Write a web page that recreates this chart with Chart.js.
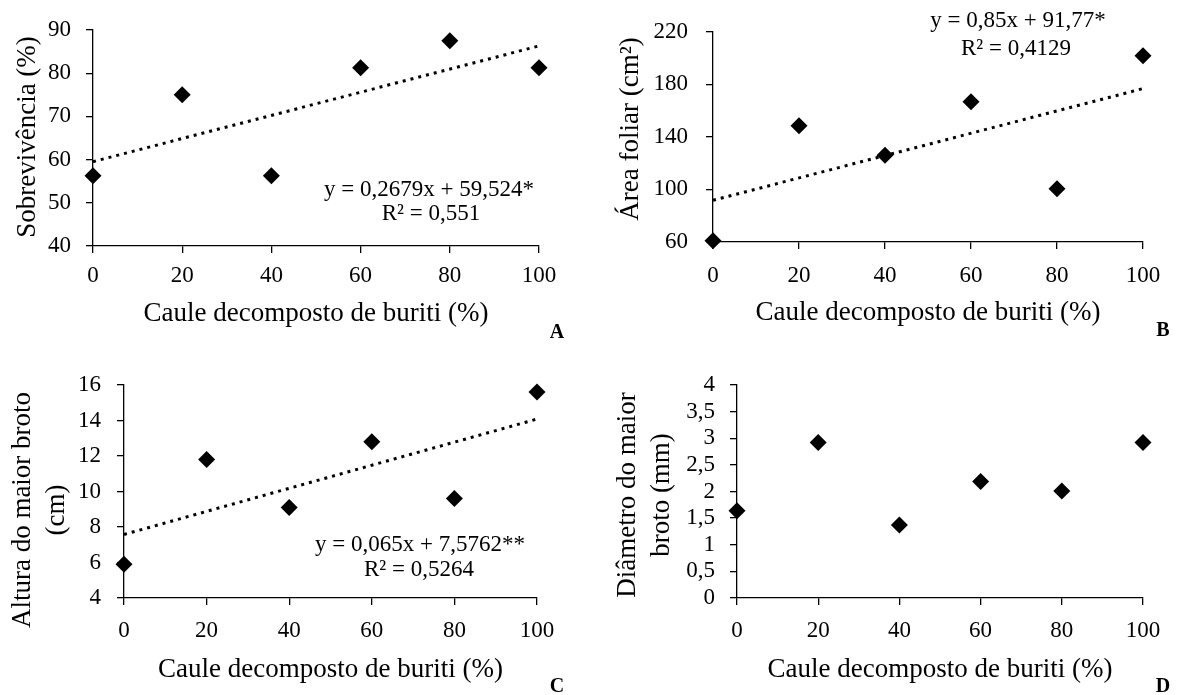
<!DOCTYPE html>
<html>
<head>
<meta charset="utf-8">
<script src="https://cdn.jsdelivr.net/npm/chart.js@4.4.1/dist/chart.umd.min.js"></script>
<style>
html, body { margin: 0; padding: 0; background: #fff; }
body { width: 1179px; height: 695px; position: relative; overflow: hidden; }
canvas { position: absolute; }
</style>
</head>
<body>
<canvas id="chartA"></canvas>
<canvas id="chartB"></canvas>
<canvas id="chartC"></canvas>
<canvas id="chartD"></canvas>
<script>
// doses de caule decomposto de buriti (%)
const doses = [0, 20, 40, 60, 80, 100];

const sobrevivencia = [56.25, 75, 56.25, 81.25, 87.5, 81.25];
const areaFoliar = [61, 148.5, 126, 166.75, 100.5, 201.75];
const alturaBroto = [5.9, 11.8, 9.1, 12.8, 9.6, 15.6];
const diametroBroto = [1.64, 2.92, 1.37, 2.19, 2.01, 2.92];

// linha de tendência: valor em x = 0 e em x = 100
const trendA = [59.52, 86.31];
const trendB = [91.77, 176.77];
const trendC = [7.58, 14.08];

const xTitle = 'Caule decomposto de buriti (%)';

const serif = "'Liberation Serif', 'Times New Roman', serif";
Chart.defaults.font.family = serif;
Chart.defaults.color = '#000';

// textos livres: equações, letras dos painéis e títulos verticais
const notesPlugin = {
  id: 'notes',
  afterDraw(chart, args, opts) {
    const ctx = chart.ctx;
    ctx.save();
    ctx.fillStyle = '#000';
    ctx.textAlign = 'center';
    for (const n of opts.items) {
      ctx.font = n.font;
      ctx.textBaseline = 'alphabetic';
      ctx.fillText(n.text, n.x - opts.ox, n.y - opts.oy);
    }
    const t = opts.yTitle;
    ctx.font = '27px ' + serif;
    ctx.textBaseline = 'middle';
    t.lines.forEach((line, i) => {
      ctx.save();
      ctx.translate(t.x[i] - opts.ox, t.y - opts.oy);
      ctx.rotate(-Math.PI / 2);
      ctx.fillText(line, 0, 0);
      ctx.restore();
    });
    ctx.restore();
  }
};

const eqFont = '23px ' + serif;
const letterFont = 'bold 20px ' + serif;

function makeChart(p) {
  const el = document.getElementById(p.id);
  const b = p.box;
  el.width = b.w;
  el.height = b.h;
  el.style.left = b.x + 'px';
  el.style.top = b.y + 'px';

  const lhX = 27 * 1.2;
  const padL = 4;
  const padB = b.y + b.h - (p.xTitleY + lhX / 2);

  const datasets = [{
    data: doses.map((x, i) => ({ x: x, y: p.values[i] })),
    pointStyle: 'rectRot',
    pointRadius: 8.5,
    pointHoverRadius: 8.5,
    backgroundColor: '#000',
    borderColor: '#000',
    borderWidth: 0,
    clip: false
  }];
  if (p.trend) {
    datasets.push({
      data: [{ x: doses[0], y: p.trend[0] }, { x: doses[doses.length - 1], y: p.trend[1] }],
      showLine: true,
      borderColor: '#000',
      borderWidth: 3,
      borderDash: [3, 5],
      pointRadius: 0,
      pointHoverRadius: 0,
      clip: false
    });
  }

  const axisGrid = { drawOnChartArea: false, drawTicks: true, tickLength: 7, color: '#000', lineWidth: 1.3 };
  const axisBorder = { color: '#000', width: 1.3 };

  new Chart(el, {
    type: 'scatter',
    data: { datasets: datasets },
    options: {
      responsive: false,
      animation: false,
      devicePixelRatio: 1,
      events: [],
      layout: {
        padding: { left: padL, top: p.area.t - b.y, right: b.x + b.w - p.area.r, bottom: padB }
      },
      plugins: {
        legend: { display: false },
        tooltip: { enabled: false },
        notes: { items: p.notes, yTitle: p.yTitle, ox: b.x, oy: b.y }
      },
      scales: {
        x: {
          type: 'linear',
          min: 0,
          max: 100,
          afterFit: s => { s.height = b.y + b.h - padB - p.area.b; },
          ticks: { stepSize: 20, padding: p.xPad, autoSkip: false, maxRotation: 0, font: { size: 23 }, color: '#000' },
          grid: axisGrid,
          border: axisBorder,
          title: { display: true, text: xTitle, font: { size: 27 }, color: '#000', padding: 0 }
        },
        y: {
          min: p.yMin,
          max: p.yMax,
          afterFit: s => { s.width = p.area.l - b.x - padL; },
          ticks: {
            stepSize: p.yStep,
            padding: p.yPad,
            autoSkip: false,
            font: { size: 23 },
            color: '#000',
            callback: v => String(v).replace('.', ',')
          },
          grid: axisGrid,
          border: axisBorder
        }
      }
    },
    plugins: [notesPlugin]
  });
}

makeChart({
  id: 'chartA',
  box: { x: 0, y: 0, w: 590, h: 345 },
  area: { l: 93, r: 539, t: 30, b: 246 },
  xTitleY: 314, xPad: 9, yPad: 15,
  values: sobrevivencia, trend: trendA,
  yMin: 40, yMax: 90, yStep: 10,
  yTitle: { lines: ['Sobrevivência (%)'], x: [28], y: 137 },
  notes: [
    { text: 'y = 0,2679x + 59,524*', x: 429, y: 196, font: eqFont },
    { text: 'R² = 0,551', x: 431, y: 220, font: eqFont },
    { text: 'A', x: 557, y: 338, font: letterFont }
  ]
});

makeChart({
  id: 'chartB',
  box: { x: 590, y: 0, w: 589, h: 345 },
  area: { l: 713, r: 1143, t: 29, b: 242 },
  xTitleY: 313, xPad: 13, yPad: 18,
  values: areaFoliar, trend: trendB,
  yMin: 60, yMax: 220, yStep: 40,
  yTitle: { lines: ['Área foliar (cm²)'], x: [631], y: 129 },
  notes: [
    { text: 'y = 0,85x + 91,77*', x: 1018, y: 27, font: eqFont },
    { text: 'R² = 0,4129', x: 1016, y: 55, font: eqFont },
    { text: 'B', x: 1163, y: 336, font: letterFont }
  ]
});

makeChart({
  id: 'chartC',
  box: { x: 0, y: 345, w: 590, h: 350 },
  area: { l: 124, r: 537, t: 385, b: 598 },
  xTitleY: 670, xPad: 12, yPad: 16,
  values: alturaBroto, trend: trendC,
  yMin: 4, yMax: 16, yStep: 2,
  yTitle: { lines: ['Altura do maior broto', '(cm)'], x: [23, 57], y: 510 },
  notes: [
    { text: 'y = 0,065x + 7,5762**', x: 420, y: 551, font: eqFont },
    { text: 'R² = 0,5264', x: 419, y: 576, font: eqFont },
    { text: 'C', x: 557, y: 692, font: letterFont }
  ]
});

makeChart({
  id: 'chartD',
  box: { x: 590, y: 345, w: 589, h: 350 },
  area: { l: 737, r: 1143, t: 385, b: 598 },
  xTitleY: 670, xPad: 12, yPad: 15,
  values: diametroBroto, trend: null,
  yMin: 0, yMax: 4, yStep: 0.5,
  yTitle: { lines: ['Diâmetro do maior', 'broto (mm)'], x: [628, 662], y: 495 },
  notes: [
    { text: 'D', x: 1163, y: 692, font: letterFont }
  ]
});
</script>
</body>
</html>
